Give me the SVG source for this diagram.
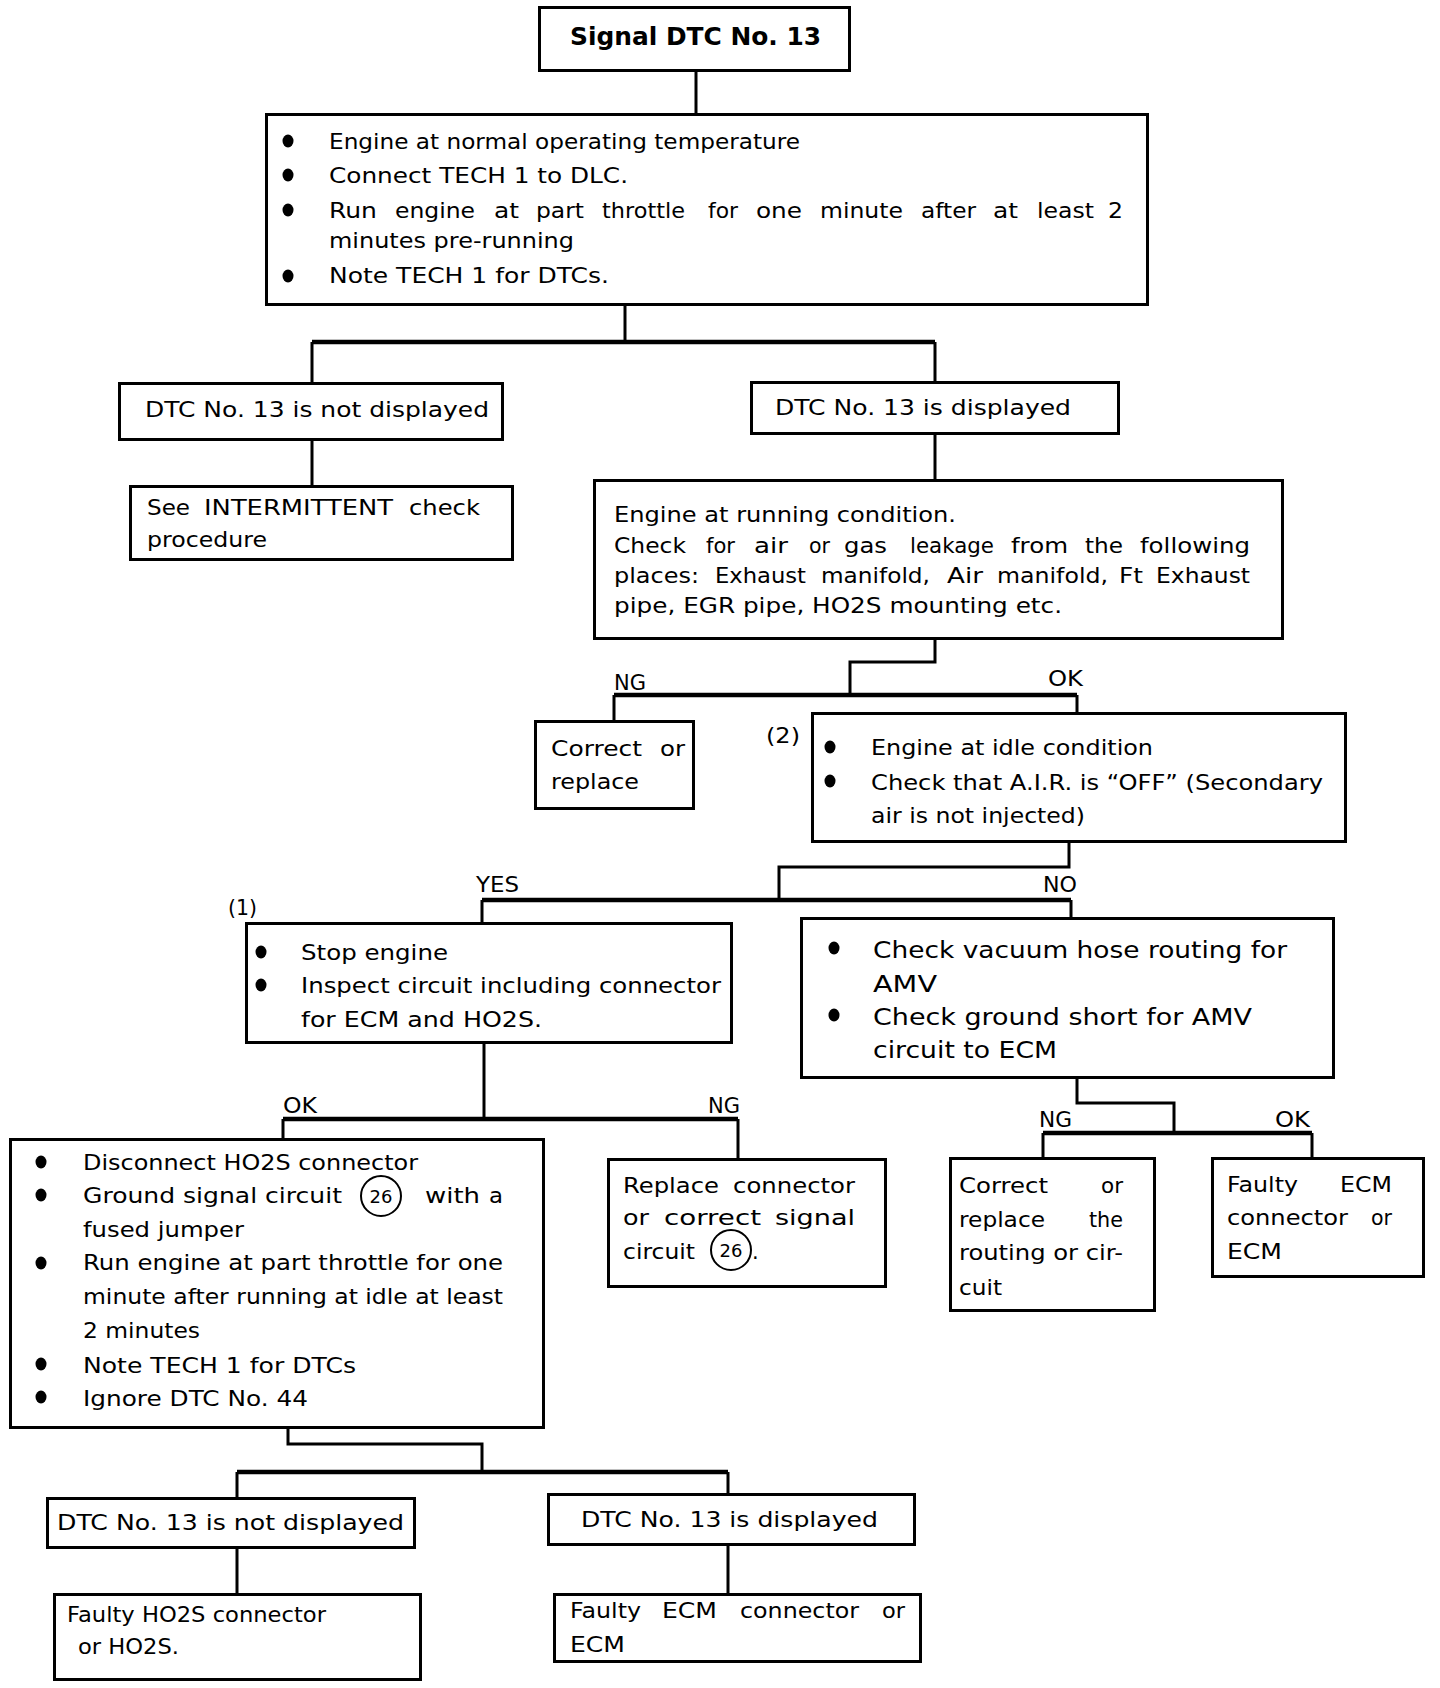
<svg xmlns="http://www.w3.org/2000/svg" width="1440" height="1688" viewBox="0 0 1440 1688">
<style>
.box{fill:#fff;stroke:#000;stroke-width:3}
.c{fill:none;stroke:#000;stroke-width:3}
.bar{fill:none;stroke:#000;stroke-width:4.5}
text{font-family:"DejaVu Sans","Liberation Sans",sans-serif;font-size:21px;fill:#000}
.big{font-size:23px}
.title{font-weight:bold;font-size:24px}
.circ{fill:none;stroke:#000;stroke-width:2}
.n{font-size:18px}
</style>
<defs>
<ellipse id="dot" rx="5.5" ry="6.5" fill="#000"/>
</defs>
<rect width="1440" height="1688" fill="#fff"/>
<g id="connectors">
<path class="c" d="M696 72V113"/>
<path class="c" d="M625 306V342"/>
<path class="bar" d="M312 342H935"/>
<path class="c" d="M312 342V382M935 342V381"/>
<path class="c" d="M312 441V485"/>
<path class="c" d="M935 435V479"/>
<path class="c" d="M935 640V662H850V695"/>
<path class="bar" d="M614 695H1077"/>
<path class="c" d="M614 695V720M1077 695V712"/>
<path class="c" d="M1069 843V867H779V900"/>
<path class="bar" d="M482 900H1071"/>
<path class="c" d="M482 900V922M1071 900V917"/>
<path class="c" d="M484 1044V1119"/>
<path class="bar" d="M283 1119H738"/>
<path class="c" d="M283 1119V1138M738 1119V1158"/>
<path class="c" d="M1077 1079V1103H1174V1133"/>
<path class="bar" d="M1043 1133H1312"/>
<path class="c" d="M1043 1133V1157M1312 1133V1157"/>
<path class="c" d="M288 1429V1444H482V1472"/>
<path class="bar" d="M237 1472H728"/>
<path class="c" d="M237 1472V1497M728 1472V1493"/>
<path class="c" d="M237 1549V1593M728 1546V1593"/>
<text x="614" y="690" textLength="32" lengthAdjust="spacingAndGlyphs">NG</text>
<text x="1048" y="686" textLength="35" lengthAdjust="spacingAndGlyphs">OK</text>
<text x="476" y="892" textLength="43" lengthAdjust="spacingAndGlyphs">YES</text>
<text x="1043" y="892" textLength="34" lengthAdjust="spacingAndGlyphs">NO</text>
<text x="283" y="1113" textLength="34" lengthAdjust="spacingAndGlyphs">OK</text>
<text x="708" y="1113" textLength="32" lengthAdjust="spacingAndGlyphs">NG</text>
<text x="1039" y="1127" textLength="33" lengthAdjust="spacingAndGlyphs">NG</text>
<text x="1275" y="1127" textLength="35" lengthAdjust="spacingAndGlyphs">OK</text>
</g>
<g id="n-title">
<rect class="box" x="539.5" y="7.5" width="310" height="63"/>
<text class="title" x="570" y="45" textLength="251" lengthAdjust="spacingAndGlyphs">Signal DTC No. 13</text>
</g>
<g id="n-prep">
<rect class="box" x="266.5" y="114.5" width="881" height="190"/>
<use href="#dot" x="288" y="141"/>
<use href="#dot" x="288" y="175"/>
<use href="#dot" x="288" y="210"/>
<use href="#dot" x="288" y="276"/>
<text x="329" y="149" textLength="471" lengthAdjust="spacingAndGlyphs">Engine at normal operating temperature</text>
<text x="329" y="183" textLength="299" lengthAdjust="spacingAndGlyphs">Connect TECH 1 to DLC.</text>
<text x="329" y="218" textLength="48" lengthAdjust="spacingAndGlyphs">Run</text>
<text x="395" y="218" textLength="80" lengthAdjust="spacingAndGlyphs">engine</text>
<text x="494" y="218" textLength="25" lengthAdjust="spacingAndGlyphs">at</text>
<text x="536" y="218" textLength="48" lengthAdjust="spacingAndGlyphs">part</text>
<text x="602" y="218" textLength="83" lengthAdjust="spacingAndGlyphs">throttle</text>
<text x="708" y="218" textLength="30" lengthAdjust="spacingAndGlyphs">for</text>
<text x="756" y="218" textLength="46" lengthAdjust="spacingAndGlyphs">one</text>
<text x="820" y="218" textLength="83" lengthAdjust="spacingAndGlyphs">minute</text>
<text x="921" y="218" textLength="55" lengthAdjust="spacingAndGlyphs">after</text>
<text x="993" y="218" textLength="25" lengthAdjust="spacingAndGlyphs">at</text>
<text x="1037" y="218" textLength="57" lengthAdjust="spacingAndGlyphs">least</text>
<text x="1108" y="218" textLength="15" lengthAdjust="spacingAndGlyphs">2</text>
<text x="329" y="248" textLength="245" lengthAdjust="spacingAndGlyphs">minutes pre-running</text>
<text x="329" y="283" textLength="280" lengthAdjust="spacingAndGlyphs">Note TECH 1 for DTCs.</text>
</g>
<g id="n-notdisp1">
<rect class="box" x="119.5" y="383.5" width="383" height="56"/>
<text x="145" y="417" textLength="344" lengthAdjust="spacingAndGlyphs">DTC No. 13 is not displayed</text>
</g>
<g id="n-disp1">
<rect class="box" x="751.5" y="382.5" width="367" height="51"/>
<text x="775" y="415" textLength="296" lengthAdjust="spacingAndGlyphs">DTC No. 13 is displayed</text>
</g>
<g id="n-intermittent">
<rect class="box" x="130.5" y="486.5" width="382" height="73"/>
<text x="147" y="515" textLength="43" lengthAdjust="spacingAndGlyphs">See</text>
<text x="204" y="515" textLength="189" lengthAdjust="spacingAndGlyphs">INTERMITTENT</text>
<text x="409" y="515" textLength="71" lengthAdjust="spacingAndGlyphs">check</text>
<text x="147" y="547" textLength="120" lengthAdjust="spacingAndGlyphs">procedure</text>
</g>
<g id="n-leak">
<rect class="box" x="594.5" y="480.5" width="688" height="158"/>
<text x="614" y="522" textLength="342" lengthAdjust="spacingAndGlyphs">Engine at running condition.</text>
<text x="614" y="553" textLength="72" lengthAdjust="spacingAndGlyphs">Check</text>
<text x="706" y="553" textLength="29" lengthAdjust="spacingAndGlyphs">for</text>
<text x="754" y="553" textLength="34" lengthAdjust="spacingAndGlyphs">air</text>
<text x="809" y="553" textLength="21" lengthAdjust="spacingAndGlyphs">or</text>
<text x="844" y="553" textLength="43" lengthAdjust="spacingAndGlyphs">gas</text>
<text x="910" y="553" textLength="84" lengthAdjust="spacingAndGlyphs">leakage</text>
<text x="1011" y="553" textLength="57" lengthAdjust="spacingAndGlyphs">from</text>
<text x="1085" y="553" textLength="38" lengthAdjust="spacingAndGlyphs">the</text>
<text x="1140" y="553" textLength="110" lengthAdjust="spacingAndGlyphs">following</text>
<text x="614" y="583" textLength="85" lengthAdjust="spacingAndGlyphs">places:</text>
<text x="715" y="583" textLength="91" lengthAdjust="spacingAndGlyphs">Exhaust</text>
<text x="821" y="583" textLength="109" lengthAdjust="spacingAndGlyphs">manifold,</text>
<text x="947" y="583" textLength="36" lengthAdjust="spacingAndGlyphs">Air</text>
<text x="997" y="583" textLength="111" lengthAdjust="spacingAndGlyphs">manifold,</text>
<text x="1119" y="583" textLength="24" lengthAdjust="spacingAndGlyphs">Ft</text>
<text x="1156" y="583" textLength="94" lengthAdjust="spacingAndGlyphs">Exhaust</text>
<text x="614" y="613" textLength="448" lengthAdjust="spacingAndGlyphs">pipe, EGR pipe, HO2S mounting etc.</text>
</g>
<g id="n-correct1">
<rect class="box" x="535.5" y="721.5" width="158" height="87"/>
<text x="551" y="756" textLength="91" lengthAdjust="spacingAndGlyphs">Correct</text>
<text x="660" y="756" textLength="25" lengthAdjust="spacingAndGlyphs">or</text>
<text x="551" y="789" textLength="88" lengthAdjust="spacingAndGlyphs">replace</text>
</g>
<g id="n-idle">
<text x="766" y="743" textLength="34" lengthAdjust="spacingAndGlyphs">(2)</text>
<rect class="box" x="812.5" y="713.5" width="533" height="128"/>
<use href="#dot" x="830" y="747"/>
<use href="#dot" x="830" y="781"/>
<text x="871" y="755" textLength="282" lengthAdjust="spacingAndGlyphs">Engine at idle condition</text>
<text x="871" y="790" textLength="452" lengthAdjust="spacingAndGlyphs">Check that A.I.R. is “OFF” (Secondary</text>
<text x="871" y="823" textLength="214" lengthAdjust="spacingAndGlyphs">air is not injected)</text>
</g>
<g id="n-stop">
<text x="228" y="915" textLength="29" lengthAdjust="spacingAndGlyphs">(1)</text>
<rect class="box" x="246.5" y="923.5" width="485" height="119"/>
<use href="#dot" x="261" y="952"/>
<use href="#dot" x="261" y="985"/>
<text x="301" y="960" textLength="147" lengthAdjust="spacingAndGlyphs">Stop engine</text>
<text x="301" y="993" textLength="420" lengthAdjust="spacingAndGlyphs">Inspect circuit including connector</text>
<text x="301" y="1027" textLength="241" lengthAdjust="spacingAndGlyphs">for ECM and HO2S.</text>
</g>
<g id="n-amv">
<rect class="box" x="801.5" y="918.5" width="532" height="159"/>
<use href="#dot" x="834" y="948"/>
<use href="#dot" x="834" y="1015"/>
<text class="big" x="873" y="958" textLength="414" lengthAdjust="spacingAndGlyphs">Check vacuum hose routing for</text>
<text class="big" x="873" y="992" textLength="64" lengthAdjust="spacingAndGlyphs">AMV</text>
<text class="big" x="873" y="1025" textLength="379" lengthAdjust="spacingAndGlyphs">Check ground short for AMV</text>
<text class="big" x="873" y="1058" textLength="184" lengthAdjust="spacingAndGlyphs">circuit to ECM</text>
</g>
<g id="n-disconnect">
<rect class="box" x="10.5" y="1139.5" width="533" height="288"/>
<use href="#dot" x="41" y="1162"/>
<use href="#dot" x="41" y="1195"/>
<use href="#dot" x="41" y="1263"/>
<use href="#dot" x="41" y="1364"/>
<use href="#dot" x="41" y="1397"/>
<text x="83" y="1170" textLength="335" lengthAdjust="spacingAndGlyphs">Disconnect HO2S connector</text>
<text x="83" y="1203" textLength="259" lengthAdjust="spacingAndGlyphs">Ground signal circuit</text>
<circle class="circ" cx="381" cy="1196" r="20"/>
<text class="n" x="381" y="1203" text-anchor="middle">26</text>
<text x="425" y="1203" textLength="55" lengthAdjust="spacingAndGlyphs">with</text>
<text x="489" y="1203" textLength="14" lengthAdjust="spacingAndGlyphs">a</text>
<text x="83" y="1237" textLength="161" lengthAdjust="spacingAndGlyphs">fused jumper</text>
<text x="83" y="1270" textLength="420" lengthAdjust="spacingAndGlyphs">Run engine at part throttle for one</text>
<text x="83" y="1304" textLength="420" lengthAdjust="spacingAndGlyphs">minute after running at idle at least</text>
<text x="83" y="1338" textLength="117" lengthAdjust="spacingAndGlyphs">2 minutes</text>
<text x="83" y="1373" textLength="273" lengthAdjust="spacingAndGlyphs">Note TECH 1 for DTCs</text>
<text x="83" y="1406" textLength="225" lengthAdjust="spacingAndGlyphs">Ignore DTC No. 44</text>
</g>
<g id="n-replace">
<rect class="box" x="608.5" y="1159.5" width="277" height="127"/>
<text x="623" y="1193" textLength="96" lengthAdjust="spacingAndGlyphs">Replace</text>
<text x="733" y="1193" textLength="122" lengthAdjust="spacingAndGlyphs">connector</text>
<text x="623" y="1225" textLength="26" lengthAdjust="spacingAndGlyphs">or</text>
<text x="664" y="1225" textLength="97" lengthAdjust="spacingAndGlyphs">correct</text>
<text x="775" y="1225" textLength="80" lengthAdjust="spacingAndGlyphs">signal</text>
<text x="623" y="1259" textLength="72" lengthAdjust="spacingAndGlyphs">circuit</text>
<circle class="circ" cx="731" cy="1250" r="20"/>
<text class="n" x="731" y="1257" text-anchor="middle">26</text>
<text x="752" y="1259">.</text>
</g>
<g id="n-correct2">
<rect class="box" x="950.5" y="1158.5" width="204" height="152"/>
<text x="959" y="1193" textLength="89" lengthAdjust="spacingAndGlyphs">Correct</text>
<text x="1101" y="1193" textLength="22" lengthAdjust="spacingAndGlyphs">or</text>
<text x="959" y="1227" textLength="86" lengthAdjust="spacingAndGlyphs">replace</text>
<text x="1089" y="1227" textLength="34" lengthAdjust="spacingAndGlyphs">the</text>
<text x="959" y="1260" textLength="164" lengthAdjust="spacingAndGlyphs">routing or cir-</text>
<text x="959" y="1295" textLength="43" lengthAdjust="spacingAndGlyphs">cuit</text>
</g>
<g id="n-faultyecm1">
<rect class="box" x="1212.5" y="1158.5" width="211" height="118"/>
<text x="1227" y="1192" textLength="71" lengthAdjust="spacingAndGlyphs">Faulty</text>
<text x="1340" y="1192" textLength="52" lengthAdjust="spacingAndGlyphs">ECM</text>
<text x="1227" y="1225" textLength="121" lengthAdjust="spacingAndGlyphs">connector</text>
<text x="1371" y="1225" textLength="21" lengthAdjust="spacingAndGlyphs">or</text>
<text x="1227" y="1259" textLength="55" lengthAdjust="spacingAndGlyphs">ECM</text>
</g>
<g id="n-notdisp2">
<rect class="box" x="47.5" y="1498.5" width="367" height="49"/>
<text x="57" y="1530" textLength="347" lengthAdjust="spacingAndGlyphs">DTC No. 13 is not displayed</text>
</g>
<g id="n-disp2">
<rect class="box" x="548.5" y="1494.5" width="366" height="50"/>
<text x="581" y="1527" textLength="297" lengthAdjust="spacingAndGlyphs">DTC No. 13 is displayed</text>
</g>
<g id="n-faultyho2s">
<rect class="box" x="54.5" y="1594.5" width="366" height="85"/>
<text x="67" y="1622" textLength="259" lengthAdjust="spacingAndGlyphs">Faulty HO2S connector</text>
<text x="78" y="1654" textLength="101" lengthAdjust="spacingAndGlyphs">or HO2S.</text>
</g>
<g id="n-faultyecm2">
<rect class="box" x="554.5" y="1594.5" width="366" height="67"/>
<text x="570" y="1618" textLength="71" lengthAdjust="spacingAndGlyphs">Faulty</text>
<text x="662" y="1618" textLength="55" lengthAdjust="spacingAndGlyphs">ECM</text>
<text x="740" y="1618" textLength="119" lengthAdjust="spacingAndGlyphs">connector</text>
<text x="882" y="1618" textLength="23" lengthAdjust="spacingAndGlyphs">or</text>
<text x="570" y="1652" textLength="55" lengthAdjust="spacingAndGlyphs">ECM</text>
</g>
</svg>
